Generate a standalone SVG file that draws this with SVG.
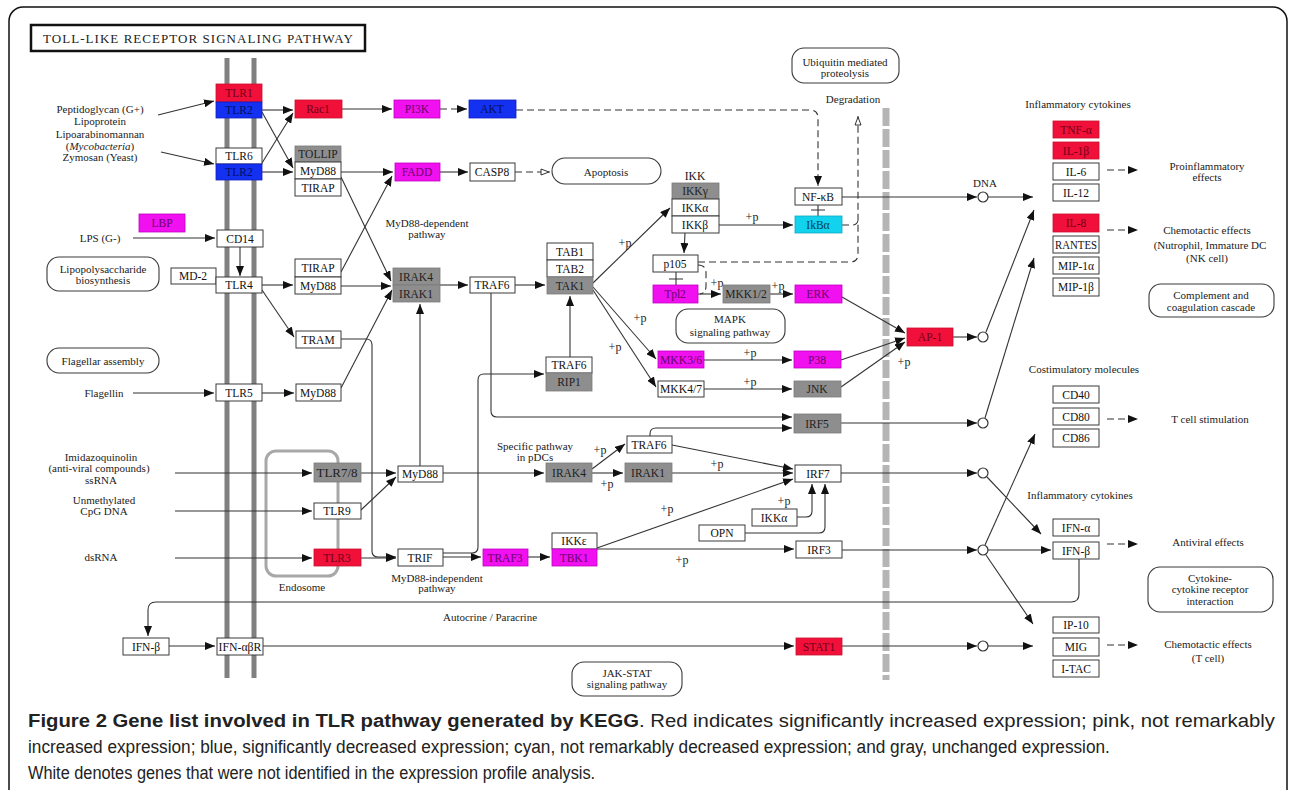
<svg xmlns="http://www.w3.org/2000/svg" width="1292" height="790" viewBox="0 0 1292 790">
<defs>
<style>
.w{fill:#fff;stroke:#3a3a3a;stroke-width:1}
.r{fill:#f0103a;stroke:#c8102e;stroke-width:0.8}
.b{fill:#1430f0;stroke:#1020c0;stroke-width:0.8}
.m{fill:#f010f0;stroke:#c000c0;stroke-width:0.8}
.c{fill:#12d2ee;stroke:#10a8c0;stroke-width:0.8}
.g{fill:#8e8e8e;stroke:#7a7a7a;stroke-width:0.8}
.rb{fill:#fff;stroke:#3a3a3a;stroke-width:1.1}
text{font-family:"Liberation Serif","DejaVu Serif",serif}
.t{font-size:11.5px;text-anchor:middle;fill:#111}
.tr{fill:#700018}.tb{fill:#00105c}.tm{fill:#6a006a}.tc{fill:#004050}.tg{fill:#1e1e1e}
.l{font-size:11px;text-anchor:middle;fill:#222}
.p{font-size:12px;text-anchor:middle;fill:#222}
.cn path{fill:none;stroke:#333;stroke-width:1.1}
.cn circle{fill:#fff;stroke:#333;stroke-width:1.2}
.ar{marker-end:url(#ah)}
.oa{marker-end:url(#oh)}
.ds{stroke-dasharray:7 4}
.cap{font-family:"Liberation Sans","DejaVu Sans",sans-serif;font-size:19px;fill:#222}
</style>
<marker id="ah" viewBox="0 0 10 8" refX="10" refY="4" markerWidth="10" markerHeight="8" markerUnits="userSpaceOnUse" orient="auto"><path d="M0,0L10,4L0,8z" fill="#111"/></marker>
<marker id="oh" viewBox="0 0 10 8" refX="10" refY="4" markerWidth="10" markerHeight="8" markerUnits="userSpaceOnUse" orient="auto"><path d="M1,1L9,4L1,7z" fill="#fff" stroke="#333" stroke-width="1"/></marker>
</defs>
<rect width="1292" height="790" fill="#fff"/>
<rect x="9" y="7" width="1278" height="820" rx="14" fill="none" stroke="#111" stroke-width="1.5"/>

<g id="title">
<rect x="31" y="25" width="334" height="26" fill="#fff" stroke="#111" stroke-width="2.5"/>
<text x="198" y="43" font-size="13px" text-anchor="middle" fill="#222" textLength="310" lengthAdjust="spacing">TOLL-LIKE RECEPTOR SIGNALING PATHWAY</text>
</g>

<g id="membranes">
<line x1="227" y1="58" x2="227" y2="678" stroke="#808080" stroke-width="5"/>
<line x1="254" y1="58" x2="254" y2="678" stroke="#808080" stroke-width="5"/>
<line x1="886" y1="108" x2="886" y2="680" stroke="#b5b5b5" stroke-width="7" stroke-dasharray="18 3"/>
</g>

<g id="endosome">
<rect x="266" y="451" width="72" height="125" rx="10" fill="none" stroke="#a8a8a8" stroke-width="3"/>
<text class="l" x="302" y="591">Endosome</text>
</g>

<g id="labels">
<text class="l" x="100" y="113">Peptidoglycan (G+)</text>
<text class="l" x="100" y="125">Lipoprotein</text>
<text class="l" x="100" y="138">Lipoarabinomannan</text>
<text class="l" x="100" y="150">(<tspan font-style="italic">Mycobacteria</tspan>)</text>
<text class="l" x="100" y="161">Zymosan (Yeast)</text>
<text class="l" x="100" y="242">LPS (G-)</text>
<text class="l" x="104" y="397">Flagellin</text>
<text class="l" x="101" y="461">Imidazoquinolin</text>
<text class="l" x="99" y="472">(anti-viral compounds)</text>
<text class="l" x="101" y="484">ssRNA</text>
<text class="l" x="104" y="504">Unmethylated</text>
<text class="l" x="104" y="515">CpG DNA</text>
<text class="l" x="101" y="561">dsRNA</text>
<text class="l" x="427" y="227">MyD88-dependent</text>
<text class="l" x="427" y="238">pathway</text>
<text class="l" x="853" y="103">Degradation</text>
<text class="l" x="985" y="187">DNA</text>
<text class="l" x="1078" y="108">Inflammatory cytokines</text>
<text class="l" x="1207" y="170">Proinflammatory</text>
<text class="l" x="1207" y="181">effects</text>
<text class="l" x="1207" y="234">Chemotactic effects</text>
<text class="l" x="1210" y="249">(Nutrophil, Immature DC</text>
<text class="l" x="1207" y="262">(NK cell)</text>
<text class="l" x="1084" y="373">Costimulatory molecules</text>
<text class="l" x="1210" y="423">T cell stimulation</text>
<text class="l" x="1080" y="499">Inflammatory cytokines</text>
<text class="l" x="1208" y="546">Antiviral effects</text>
<text class="l" x="1208" y="648">Chemotactic effects</text>
<text class="l" x="1208" y="662">(T cell)</text>
<text class="l" x="535" y="450">Specific pathway</text>
<text class="l" x="535" y="461">in pDCs</text>
<text class="l" x="437" y="582">MyD88-independent</text>
<text class="l" x="437" y="592">pathway</text>
<text class="l" x="490" y="621">Autocrine / Paracrine</text>
<text class="p" x="625" y="247">+p</text>
<text class="p" x="752" y="221">+p</text>
<text class="p" x="717" y="287">+p</text>
<text class="p" x="778" y="290">+p</text>
<text class="p" x="640" y="322">+p</text>
<text class="p" x="615" y="351">+p</text>
<text class="p" x="750" y="357">+p</text>
<text class="p" x="750" y="386">+p</text>
<text class="p" x="904" y="366">+p</text>
<text class="p" x="600" y="454">+p</text>
<text class="p" x="607" y="488">+p</text>
<text class="p" x="717" y="468">+p</text>
<text class="p" x="784" y="505">+p</text>
<text class="p" x="667" y="513">+p</text>
<text class="p" x="682" y="564">+p</text>
</g>

<g id="pathways">
<g id="pw-lps"><rect class="rb" x="47" y="257" width="112" height="34" rx="12"/><text class="l" x="103" y="273">Lipopolysaccharide</text><text class="l" x="103" y="284">biosynthesis</text></g>
<g id="pw-flag"><rect class="rb" x="47" y="348" width="112" height="25" rx="12"/><text class="l" x="103" y="365">Flagellar assembly</text></g>
<g id="pw-apop"><rect class="rb" x="552" y="158" width="109" height="26" rx="13"/><text class="l" x="606" y="176">Apoptosis</text></g>
<g id="pw-ubi"><rect class="rb" x="792" y="48" width="107" height="35" rx="12"/><text class="l" x="845" y="66">Ubiquitin mediated</text><text class="l" x="845" y="77">proteolysis</text></g>
<g id="pw-mapk"><rect class="rb" x="676" y="309" width="109" height="34" rx="12"/><text class="l" x="730" y="323">MAPK</text><text class="l" x="730" y="336">signaling pathway</text></g>
<g id="pw-comp"><rect class="rb" x="1149" y="284" width="125" height="33" rx="12"/><text class="l" x="1211" y="299">Complement and</text><text class="l" x="1211" y="311">coagulation cascade</text></g>
<g id="pw-cyto"><rect class="rb" x="1148" y="567" width="125" height="45" rx="12"/><text class="l" x="1210" y="582">Cytokine-</text><text class="l" x="1210" y="593">cytokine receptor</text><text class="l" x="1210" y="605">interaction</text></g>
<g id="pw-jak"><rect class="rb" x="572" y="662" width="110" height="34" rx="12"/><text class="l" x="627" y="677">JAK-STAT</text><text class="l" x="627" y="688">signaling pathway</text></g>
</g>

<g class="cn" id="connectors">
<path class="ar" d="M158,115L214,101"/>
<path class="ar" d="M161,152L214,164"/>
<path class="ar" d="M133,238L215,238"/>
<path class="ar" d="M240,247L240,276"/>
<path class="ar" d="M262,110L293,110"/>
<path class="ar" d="M262,112L293,168"/>
<path class="ar" d="M262,163L293,113"/>
<path class="ar" d="M262,172L293,172"/>
<path class="ar" d="M342,109L392,109"/>
<path class="ar ds" d="M440,109L467,109"/>
<path class="ar ds" d="M516,110L810,110Q818,110 818,118L818,186"/>
<path class="ar" d="M341,172L393,172"/>
<path class="ar" d="M440,172L468,172"/>
<path class="oa ds" d="M515,172L550,172"/>
<path class="ar" d="M341,177L391,281"/>
<path class="ar" d="M341,272L392,176"/>
<path class="ar" d="M262,285L293,285"/>
<path class="ar" d="M341,286L391,286"/>
<path class="ar" d="M262,290L294,337"/>
<path class="ar" d="M341,388L392,290"/>
<path class="ar" d="M133,393L214,393"/>
<path class="ar" d="M262,393L294,393"/>
<path class="ar" d="M341,339L366,339Q372,339 372,345L372,551Q372,557 378,557L396,557"/>
<path class="ar" d="M440,285L468,285"/>
<path class="ar" d="M515,285L545,285"/>
<path class="ar" d="M593,283L670,208"/>
<path class="ar" d="M593,287L656,359"/>
<path class="ar" d="M593,290L656,387"/>
<path class="ar" d="M719,225L793,225"/>
<path class="ar" d="M685,233L684,253"/>
<path d="M676,272L676,285M669,279L683,279"/>
<path d="M818,205L818,216M811,210L825,210"/>
<path class="ar" d="M698,294L721,294"/>
<path class="ar" d="M770,294L793,294"/>
<path class="ar" d="M842,297L905,333"/>
<path class="ar" d="M704,360L792,360"/>
<path class="ar" d="M704,389L792,389"/>
<path class="ar" d="M841,360L905,338"/>
<path class="ar" d="M841,387L905,342"/>
<path class="ar" d="M953,337L977,337"/>
<circle cx="983" cy="337" r="5"/>
<path class="ar" d="M842,197L977,197"/>
<circle cx="983" cy="197" r="5"/>
<path class="ar" d="M988,197L1033,197"/>
<path class="ar" d="M986,332L1034,210"/>
<path class="ar" d="M985,418L1034,258"/>
<path class="ar" d="M841,423L977,423"/>
<circle cx="983" cy="423" r="5"/>
<path class="ar" d="M491,293L491,411Q491,417 497,417L792,417"/>
<path class="ar" d="M650,436L650,434Q650,428 656,428L792,428"/>
<path class="ar" d="M420,466L420,304"/>
<path class="ar" d="M361,473L396,473"/>
<path class="ar" d="M361,510L396,477"/>
<path class="ar" d="M175,473L312,473"/>
<path class="ar" d="M175,511L312,511"/>
<path class="ar" d="M175,558L312,558"/>
<path class="ar" d="M361,558L396,558"/>
<path class="ar" d="M443,473L544,473"/>
<path class="ar" d="M592,473L623,473"/>
<path class="ar" d="M592,469L625,444"/>
<path class="ar" d="M672,445L793,469"/>
<path class="ar" d="M672,473L793,473"/>
<path class="ar" d="M841,473L977,473"/>
<circle cx="983" cy="473" r="5"/>
<path class="ar" d="M797,517L806,517Q812,517 812,511L812,484"/>
<path class="ar" d="M745,533L819,533Q825,533 825,527L825,484"/>
<path class="ar" d="M597,548L793,479"/>
<path class="ar" d="M597,549L794,549"/>
<path class="ar" d="M842,550L977,550"/>
<circle cx="983" cy="550" r="5"/>
<path class="ar" d="M988,550L1051,550"/>
<path class="ar" d="M985,545L1035,434"/>
<path class="ar" d="M987,477L1041,534"/>
<path class="ar" d="M986,555L1033,624"/>
<path class="ar" d="M842,646L977,646"/>
<circle cx="983" cy="646" r="5"/>
<path class="ar" d="M988,646L1033,646"/>
<path class="ar" d="M263,646L794,646"/>
<path class="ar" d="M169,646L215,646"/>
<path class="ar" d="M1079,559L1079,594Q1079,602 1071,602L156,602Q148,602 148,610L148,636"/>
<path class="ar" d="M443,553L472,553Q478,553 478,547L478,380Q478,374 484,374L544,374"/>
<path class="ar" d="M443,557L481,557"/>
<path class="ar" d="M528,557L550,557"/>
<path class="ar" d="M570,357L570,296"/>
<path class="oa ds" d="M698,262L850,262Q858,262 858,254L858,116"/>
<path class="ds" d="M842,225L852,225Q858,225 858,219"/>
<path class="ds" d="M698,265Q706,265 706,273L706,286Q706,293 700,294"/>
<path class="ar ds" d="M1107,170L1138,170"/>
<path class="ar ds" d="M1107,230L1138,230"/>
<path class="ar ds" d="M1107,419L1138,419"/>
<path class="ar ds" d="M1107,544L1138,544"/>
<path class="ar ds" d="M1107,645L1138,645"/>
</g>

<g id="nodes">
<g id="n-TLR1"><rect class="r" x="216" y="84" width="46" height="18"/><text class="t tr" x="239" y="97">TLR1</text></g>
<g id="n-TLR2a"><rect class="b" x="216" y="102" width="46" height="16"/><text class="t tb" x="239" y="114">TLR2</text></g>
<g id="n-TLR6"><rect class="w" x="216" y="148" width="46" height="16"/><text class="t" x="239" y="160">TLR6</text></g>
<g id="n-TLR2b"><rect class="b" x="216" y="164" width="46" height="16"/><text class="t tb" x="239" y="176">TLR2</text></g>
<g id="n-CD14"><rect class="w" x="217" y="230" width="46" height="17"/><text class="t" x="240" y="243">CD14</text></g>
<g id="n-MD2"><rect class="w" x="171" y="268" width="45" height="16"/><text class="t" x="193" y="280">MD-2</text></g>
<g id="n-TLR4"><rect class="w" x="216" y="277" width="46" height="16"/><text class="t" x="239" y="289">TLR4</text></g>
<g id="n-TLR5"><rect class="w" x="216" y="384" width="46" height="17"/><text class="t" x="239" y="397">TLR5</text></g>
<g id="n-LBP"><rect class="m" x="139" y="214" width="46" height="18"/><text class="t tm" x="162" y="227">LBP</text></g>
<g id="n-Rac1"><rect class="r" x="295" y="100" width="47" height="18"/><text class="t tr" x="318" y="113">Rac1</text></g>
<g id="n-TOLLIP"><rect class="g" x="295" y="146" width="46" height="16"/><text class="t tg" x="318" y="158">TOLLIP</text></g>
<g id="n-MyD88a"><rect class="w" x="295" y="162" width="46" height="17"/><text class="t" x="318" y="175">MyD88</text></g>
<g id="n-TIRAPa"><rect class="w" x="295" y="179" width="46" height="17"/><text class="t" x="318" y="192">TIRAP</text></g>
<g id="n-TIRAPb"><rect class="w" x="295" y="259" width="46" height="18"/><text class="t" x="318" y="272">TIRAP</text></g>
<g id="n-MyD88b"><rect class="w" x="295" y="277" width="46" height="17"/><text class="t" x="318" y="290">MyD88</text></g>
<g id="n-TRAM"><rect class="w" x="296" y="331" width="45" height="17"/><text class="t" x="318" y="344">TRAM</text></g>
<g id="n-MyD88c"><rect class="w" x="296" y="384" width="45" height="17"/><text class="t" x="318" y="397">MyD88</text></g>
<g id="n-PI3K"><rect class="m" x="394" y="100" width="46" height="18"/><text class="t tm" x="417" y="113">PI3K</text></g>
<g id="n-AKT"><rect class="b" x="469" y="100" width="47" height="18"/><text class="t tb" x="492" y="113">AKT</text></g>
<g id="n-FADD"><rect class="m" x="395" y="163" width="45" height="18"/><text class="t tm" x="417" y="176">FADD</text></g>
<g id="n-CASP8"><rect class="w" x="470" y="163" width="45" height="18"/><text class="t" x="492" y="176">CASP8</text></g>
<g id="n-IRAK"><rect class="g" x="393" y="268" width="47" height="17"/><rect class="g" x="393" y="285" width="47" height="17"/><text class="t tg" x="416" y="281">IRAK4</text><text class="t tg" x="416" y="298">IRAK1</text></g>
<g id="n-TRAF6a"><rect class="w" x="470" y="277" width="45" height="16"/><text class="t" x="492" y="289">TRAF6</text></g>
<g id="n-TAK"><rect class="w" x="547" y="243" width="46" height="17"/><rect class="w" x="547" y="260" width="46" height="17"/><rect class="g" x="547" y="277" width="46" height="17"/><text class="t" x="570" y="256">TAB1</text><text class="t" x="570" y="273">TAB2</text><text class="t tg" x="570" y="290">TAK1</text></g>
<g id="n-IKK"><text class="t" x="695" y="180">IKK</text><rect class="g" x="672" y="183" width="47" height="16"/><rect class="w" x="672" y="199" width="47" height="17"/><rect class="w" x="672" y="216" width="47" height="17"/><text class="t tg" x="695" y="195">IKKγ</text><text class="t" x="695" y="212">IKKα</text><text class="t" x="695" y="229">IKKβ</text></g>
<g id="n-NFkB"><rect class="w" x="795" y="188" width="47" height="17"/><text class="t" x="818" y="201">NF-κB</text></g>
<g id="n-IkBa"><rect class="c" x="795" y="216" width="47" height="17"/><text class="t tc" x="818" y="229">IkBα</text></g>
<g id="n-p105"><rect class="w" x="653" y="255" width="45" height="17"/><text class="t" x="675" y="268">p105</text></g>
<g id="n-Tpl2"><rect class="m" x="653" y="285" width="45" height="18"/><text class="t tm" x="675" y="298">Tpl2</text></g>
<g id="n-MKK12"><rect class="g" x="723" y="285" width="47" height="18"/><text class="t tg" x="746" y="298">MKK1/2</text></g>
<g id="n-ERK"><rect class="m" x="795" y="285" width="47" height="18"/><text class="t tm" x="818" y="298">ERK</text></g>
<g id="n-MKK36"><rect class="m" x="658" y="351" width="46" height="17"/><text class="t tm" x="681" y="364" textLength="42" lengthAdjust="spacingAndGlyphs">MKK3/6</text></g>
<g id="n-P38"><rect class="m" x="794" y="351" width="47" height="17"/><text class="t tm" x="817" y="364">P38</text></g>
<g id="n-MKK47"><rect class="w" x="658" y="381" width="46" height="16"/><text class="t" x="681" y="393" textLength="42" lengthAdjust="spacingAndGlyphs">MKK4/7</text></g>
<g id="n-JNK"><rect class="g" x="794" y="381" width="47" height="16"/><text class="t tg" x="817" y="393">JNK</text></g>
<g id="n-RIP1"><rect class="w" x="546" y="357" width="46" height="16"/><rect class="g" x="546" y="373" width="46" height="18"/><text class="t" x="569" y="369">TRAF6</text><text class="t tg" x="569" y="386">RIP1</text></g>
<g id="n-IRF5"><rect class="g" x="794" y="414" width="47" height="19"/><text class="t tg" x="817" y="428">IRF5</text></g>
<g id="n-AP1"><rect class="r" x="907" y="328" width="46" height="18"/><text class="t tr" x="930" y="341">AP-1</text></g>
<g id="n-TLR78"><rect class="g" x="314" y="463" width="47" height="19"/><text class="t tg" x="337" y="477" textLength="41" lengthAdjust="spacingAndGlyphs">TLR7/8</text></g>
<g id="n-TLR9"><rect class="w" x="314" y="503" width="47" height="16"/><text class="t" x="337" y="515">TLR9</text></g>
<g id="n-TLR3"><rect class="r" x="314" y="549" width="47" height="17"/><text class="t tr" x="337" y="562">TLR3</text></g>
<g id="n-MyD88d"><rect class="w" x="398" y="466" width="45" height="16"/><text class="t" x="420" y="478">MyD88</text></g>
<g id="n-IRAK4b"><rect class="g" x="546" y="463" width="46" height="19"/><text class="t tg" x="569" y="477">IRAK4</text></g>
<g id="n-IRAK1b"><rect class="g" x="625" y="463" width="47" height="19"/><text class="t tg" x="648" y="477">IRAK1</text></g>
<g id="n-TRAF6c"><rect class="w" x="627" y="436" width="45" height="17"/><text class="t" x="649" y="449">TRAF6</text></g>
<g id="n-IRF7"><rect class="w" x="795" y="465" width="46" height="17"/><text class="t" x="818" y="478">IRF7</text></g>
<g id="n-IKKa2"><rect class="w" x="752" y="509" width="45" height="17"/><text class="t" x="774" y="522">IKKα</text></g>
<g id="n-OPN"><rect class="w" x="699" y="525" width="46" height="16"/><text class="t" x="722" y="537">OPN</text></g>
<g id="n-TRIF"><rect class="w" x="398" y="549" width="45" height="17"/><text class="t" x="420" y="562">TRIF</text></g>
<g id="n-TRAF3"><rect class="m" x="483" y="549" width="45" height="17"/><text class="t tm" x="505" y="562">TRAF3</text></g>
<g id="n-TBK1"><rect class="w" x="552" y="533" width="45" height="16"/><rect class="m" x="552" y="549" width="45" height="17"/><text class="t" x="574" y="545">IKKε</text><text class="t tm" x="574" y="562">TBK1</text></g>
<g id="n-IRF3"><rect class="w" x="796" y="541" width="46" height="17"/><text class="t" x="819" y="554">IRF3</text></g>
<g id="n-IFNbL"><rect class="w" x="123" y="638" width="46" height="17"/><text class="t" x="146" y="651">IFN-β</text></g>
<g id="n-IFNR"><rect class="w" x="217" y="638" width="46" height="17"/><text class="t" x="240" y="651" textLength="43" lengthAdjust="spacingAndGlyphs">IFN-αβR</text></g>
<g id="n-STAT1"><rect class="r" x="796" y="638" width="46" height="17"/><text class="t tr" x="819" y="651">STAT1</text></g>
<g id="n-TNFa"><rect class="r" x="1053" y="121" width="46" height="17"/><text class="t tr" x="1076" y="134">TNF-α</text></g>
<g id="n-IL1b"><rect class="r" x="1053" y="142" width="46" height="17"/><text class="t tr" x="1076" y="155">IL-1β</text></g>
<g id="n-IL6"><rect class="w" x="1053" y="163" width="46" height="17"/><text class="t" x="1076" y="176">IL-6</text></g>
<g id="n-IL12"><rect class="w" x="1053" y="184" width="46" height="17"/><text class="t" x="1076" y="197">IL-12</text></g>
<g id="n-IL8"><rect class="r" x="1053" y="214" width="46" height="18"/><text class="t tr" x="1076" y="227">IL-8</text></g>
<g id="n-RANTES"><rect class="w" x="1053" y="236" width="46" height="17"/><text class="t" x="1076" y="249" textLength="42" lengthAdjust="spacingAndGlyphs">RANTES</text></g>
<g id="n-MIP1a"><rect class="w" x="1053" y="257" width="46" height="17"/><text class="t" x="1076" y="270">MIP-1α</text></g>
<g id="n-MIP1b"><rect class="w" x="1053" y="278" width="46" height="18"/><text class="t" x="1076" y="291">MIP-1β</text></g>
<g id="n-CD40"><rect class="w" x="1053" y="386" width="46" height="17"/><text class="t" x="1076" y="399">CD40</text></g>
<g id="n-CD80"><rect class="w" x="1053" y="408" width="46" height="17"/><text class="t" x="1076" y="421">CD80</text></g>
<g id="n-CD86"><rect class="w" x="1053" y="429" width="46" height="18"/><text class="t" x="1076" y="442">CD86</text></g>
<g id="n-IFNa"><rect class="w" x="1053" y="519" width="46" height="17"/><text class="t" x="1076" y="532">IFN-α</text></g>
<g id="n-IFNb"><rect class="w" x="1053" y="542" width="46" height="17"/><text class="t" x="1076" y="555">IFN-β</text></g>
<g id="n-IP10"><rect class="w" x="1053" y="617" width="46" height="16"/><text class="t" x="1076" y="629">IP-10</text></g>
<g id="n-MIG"><rect class="w" x="1053" y="638" width="46" height="18"/><text class="t" x="1076" y="651">MIG</text></g>
<g id="n-ITAC"><rect class="w" x="1053" y="660" width="46" height="17"/><text class="t" x="1076" y="673">I-TAC</text></g>
</g>

<g id="caption" transform="translate(28,0) scale(0.86,1)">
<text class="cap" x="0" y="727" textLength="1450" lengthAdjust="spacingAndGlyphs"><tspan font-weight="bold">Figure 2 Gene list involved in TLR pathway generated by KEGG</tspan>. Red indicates significantly increased expression; pink, not remarkably</text>
<text class="cap" x="0" y="753" textLength="1258" lengthAdjust="spacingAndGlyphs">increased expression; blue, significantly decreased expression; cyan, not remarkably decreased expression; and gray, unchanged expression.</text>
<text class="cap" x="0" y="779">White denotes genes that were not identified in the expression profile analysis.</text>
</g>
</svg>
